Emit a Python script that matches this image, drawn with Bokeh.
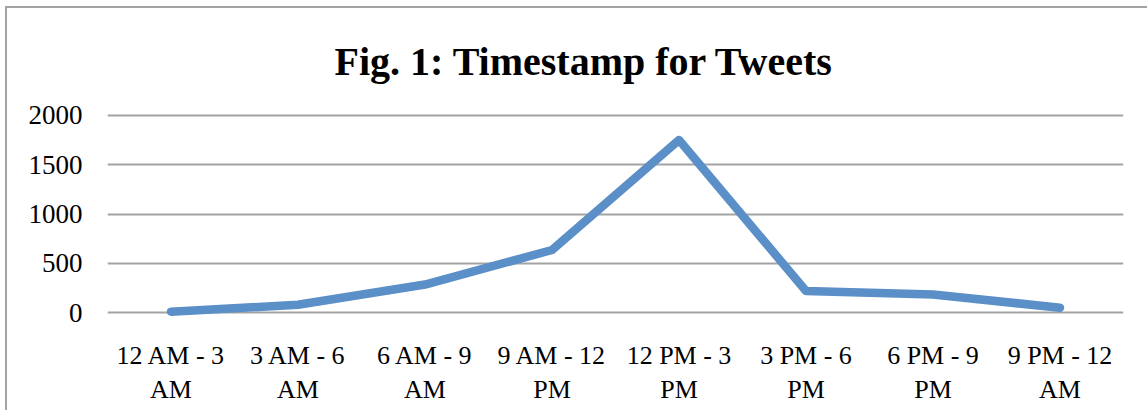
from bokeh.plotting import figure
from bokeh.models import Range1d, FixedTicker, FactorRange
from bokeh.embed import file_html
from bokeh.resources import INLINE

# Tweets per 3-hour time slot (labels wrap onto two lines)
slots = ["12 AM - 3\nAM", "3 AM - 6\nAM", "6 AM - 9\nAM", "9 AM - 12\nPM",
         "12 PM - 3\nPM", "3 PM - 6\nPM", "6 PM - 9\nPM", "9 PM - 12\nAM"]
tweets = [10, 80, 285, 635, 1750, 220, 185, 50]
y_ticks = [0, 500, 1000, 1500, 2000]

FONT = "Liberation Serif"
GRID = "#a3a3a3"

p = figure(
    width=1140, height=402,
    frame_width=1016, frame_height=227,
    x_range=FactorRange(factors=slots, range_padding=0),
    y_range=Range1d(-150, 2150),
    output_backend="svg", toolbar_location=None,
    min_border_left=100, min_border_right=24,
    min_border_top=92, min_border_bottom=83,
    styles={"margin-left": "5px", "margin-top": "6px",
            "border-left": f"2px solid {GRID}", "border-top": f"2px solid {GRID}"},
)

p.outline_line_color = None
p.background_fill_color = "white"
p.border_fill_color = "white"

# chart title, centred on the whole chart area rather than the plot frame
p.title.text = "Fig. 1: Timestamp for Tweets"
p.title.align = "left"
p.title.offset = 227
p.title.standoff = 33
p.title.text_font = FONT
p.title.text_font_size = "40px"
p.title.text_font_style = "bold"
p.title.text_color = "#000000"

# horizontal gridlines only
p.xgrid.grid_line_color = None
p.ygrid.ticker = FixedTicker(ticks=y_ticks)
p.ygrid.grid_line_color = GRID
p.ygrid.grid_line_width = 2

p.yaxis.ticker = FixedTicker(ticks=y_ticks)
p.yaxis.axis_line_color = None
p.yaxis.major_tick_line_color = None
p.yaxis.minor_tick_line_color = None
p.yaxis.major_label_text_font = FONT
p.yaxis.major_label_text_font_size = "27px"
p.yaxis.major_label_text_color = "#000000"
p.yaxis.major_label_standoff = 19

p.xaxis.axis_line_color = None
p.xaxis.major_tick_line_color = None
p.xaxis.major_label_text_font = FONT
p.xaxis.major_label_text_font_size = "26px"
p.xaxis.major_label_text_color = "#000000"
p.xaxis.major_label_standoff = 7

p.line(slots, tweets, line_color="#5b8fc7", line_width=8.5,
       line_join="round", line_cap="round")

open("out.html", "w").write(file_html(p, INLINE))
